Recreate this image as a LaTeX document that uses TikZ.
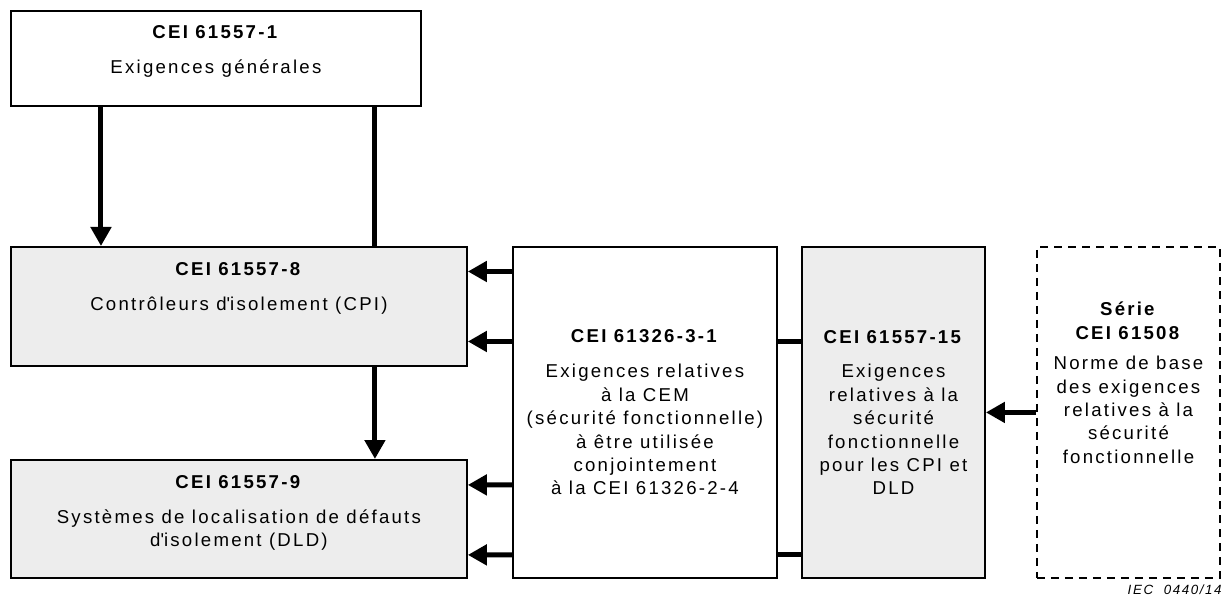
\documentclass[tikz,border=0pt]{standalone}
\usepackage{fontspec}
\setmainfont{Liberation Sans}[LetterSpace=12]
\usetikzlibrary{positioning,arrows.meta}
\definecolor{boxgrey}{RGB}{237,237,237}

\begin{document}
\begin{tikzpicture}[x=0.02cm,y=-0.02cm,
      every node/.style={font=\fontsize{10.6}{13.3}\selectfont},
      std box/.style={draw,line width=1.1pt,anchor=north west,inner sep=0pt},
      grey box/.style={std box,fill=boxgrey},
      base box/.style={std box,dash pattern=on 0.16cm off 0.12cm},
      box text/.style={align=center,inner sep=0pt},
      flow/.style={line width=2.85pt,-{Triangle[width=0.4cm,length=0.38cm]}},
      link/.style={line width=2.85pt}]

    \useasboundingbox (0,0) rectangle (1227,597);

    % boxes
    \node [std box, minimum width=8.2cm, minimum height=1.9cm] (p1) at (10,10) {};
    \node [grey box, minimum width=9.12cm, minimum height=2.38cm] (p8) at (10,246) {};
    \node [grey box, minimum width=9.12cm, minimum height=2.36cm] (p9) at (10,459) {};
    \node [std box, minimum width=5.28cm, minimum height=6.62cm] (cem) at (512,246) {};
    \node [grey box, minimum width=3.66cm, minimum height=6.62cm] (p15) at (801,246) {};
    \node [base box, minimum width=3.66cm, minimum height=6.62cm] (sec) at (1036,246) {};

    % texts
    \node [box text, below=0.3cm of p1.north] (p1txt)
      {\textbf{CEI 61557-1}\\[6.6pt] Exigences générales};
    \node [box text, below=0.32cm of p8.north] (p8txt)
      {\textbf{CEI 61557-8}\\[6.6pt] Contrôleurs d\textquotesingle isolement (CPI)};
    \node [box text, below=0.32cm of p9.north] (p9txt)
      {\textbf{CEI 61557-9}\\[6.6pt] Systèmes de localisation de défauts\\ d\textquotesingle isolement (DLD)};
    \node [box text] (cemtxt) at (cem.center)
      {\textbf{CEI 61326-3-1}\\[6.6pt] Exigences relatives\\ à la CEM\\ (sécurité fonctionnelle)\\
       à être utilisée\\ conjointement\\ à la CEI 61326-2-4};
    \node [box text] (p15txt) at (p15.center)
      {\textbf{CEI 61557-15}\\[6.6pt] Exigences\\ relatives à la\\ sécurité\\ fonctionnelle\\
       pour les CPI et\\ DLD};
    \node [box text, below=1.12cm of sec.north] (sectxt)
      {\textbf{Série}\\ \textbf{CEI 61508}\\[4pt] Norme de base\\ des exigences\\ relatives à la\\
       sécurité\\ fonctionnelle};
    \node [anchor=south east, inner sep=0pt, font=\fontsize{7.6}{9}\selectfont\itshape] (iec)
      at (1222,595) {IEC\ \ 0440/14};

    % connectors
    \draw [flow] ([xshift=1.82cm]p1.south west) -- ([xshift=1.82cm]p8.north west);
    \draw [link] ([xshift=7.3cm]p1.south west) -- ([xshift=7.3cm]p8.north west);
    \draw [flow] ([xshift=7.3cm]p8.south west) -- ([xshift=7.3cm]p9.north west);

    \draw [flow] ([yshift=-0.51cm]cem.north west) -- ([yshift=-0.51cm]p8.north east);
    \draw [flow] ([yshift=-1.91cm]cem.north west) -- ([yshift=-1.91cm]p8.north east);
    \draw [flow] ([yshift=1.88cm]cem.south west) -- ([yshift=1.88cm]p9.south east);
    \draw [flow] ([yshift=0.48cm]cem.south west) -- ([yshift=0.48cm]p9.south east);

    \draw [link] ([yshift=-1.91cm]p15.north west) -- ([yshift=-1.91cm]cem.north east);
    \draw [link] ([yshift=0.48cm]p15.south west) -- ([yshift=0.48cm]cem.south east);
    \draw [flow] (sec.west) -- (p15.east);

\end{tikzpicture}
\end{document}
